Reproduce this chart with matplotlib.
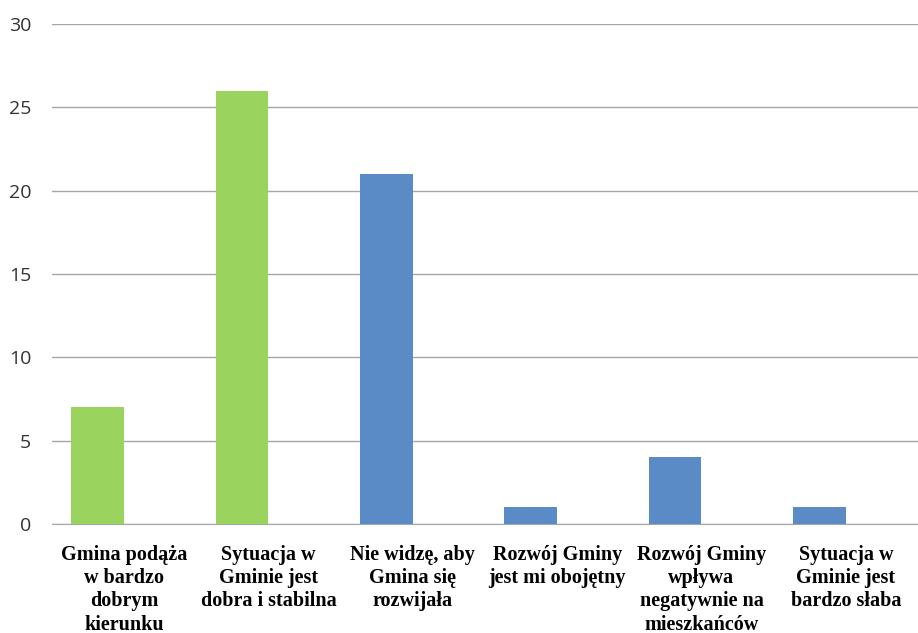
import matplotlib
matplotlib.use('Agg')
import matplotlib.pyplot as plt
import numpy as np

# Data
categories = [
    'Gmina podąża\nw bardzo\ndobrym\nkierunku',
    'Sytuacja w\nGminie jest\ndobra i stabilna',
    'Nie widzę, aby\nGmina się\nrozwijała',
    'Rozwój Gminy\njest mi obojętny',
    'Rozwój Gminy\nwpływa\nnegatywnie na\nmieszkańców',
    'Sytuacja w\nGminie jest\nbardzo słaba',
]
values = [7, 26, 21, 1, 4, 1]
bar_colors = ['#9bd35f', '#9bd35f', '#5b8bc6', '#5b8bc6', '#5b8bc6', '#5b8bc6']
yticks = [0, 5, 10, 15, 20, 25, 30]

fig = plt.figure(figsize=(9.18, 6.33), dpi=100)
ax = fig.add_axes([52/918, 109/633, 866/918, 500/633])

x = np.arange(len(values))
w = 0.367
ax.bar(x - w/2, values, width=w, color=bar_colors, zorder=3)

ax.set_xlim(-0.5, len(values) - 0.5)
ax.set_ylim(0, 30)
ax.set_yticks(yticks)
ax.set_yticklabels([str(t) for t in yticks], fontsize=14, color='#333333',
                   family='Open Sans')
ax.set_xticks(x)
ax.set_xticklabels(categories, fontsize=14.5, fontweight='bold',
                   family='Liberation Serif', linespacing=1.22)
ax.tick_params(axis='both', length=0)
ax.tick_params(axis='y', pad=15)
ax.tick_params(axis='x', pad=15)
ax.yaxis.grid(True, color='#a6a6a6', linewidth=1, zorder=0)
for s in ['top', 'right', 'left']:
    ax.spines[s].set_visible(False)
ax.spines['bottom'].set_color('#a6a6a6')

fig.savefig('out.png', dpi=100)
